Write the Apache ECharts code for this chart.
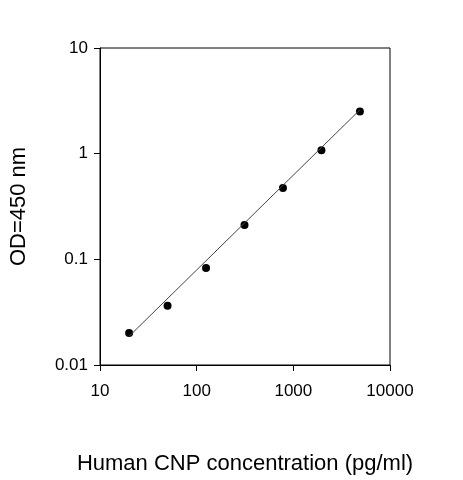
<!DOCTYPE html>
<html><head><meta charset="utf-8">
<script src="https://cdn.jsdelivr.net/npm/echarts@6/dist/echarts.min.js"></script>
<style>html,body{margin:0;padding:0;background:#fff}#c{width:463px;height:480px}</style>
</head><body><div id="c"></div>
<script>
const conc = [20, 50, 125, 312.5, 781, 1953, 4883];
const od = [0.0201, 0.0364, 0.083, 0.211, 0.472, 1.08, 2.51];
const fitX = [20, 4883];
const fitY = [0.0187, 2.6];
const chart = echarts.init(document.getElementById('c'));
const ax = {color:'#000', fontSize:17, fontFamily:'Liberation Sans, Arial'};
chart.setOption({
  animation:false,
  grid:{left:95, right:73, top:48, bottom:106, show:true, borderColor:'#000', borderWidth:1},
  xAxis:{type:'log', min:10, max:10000, logBase:10,
    name:'Human CNP concentration (pg/ml)', nameLocation:'middle', nameGap:88,
    nameTextStyle:{color:'#000', fontSize:22, fontFamily:'Liberation Sans, Arial'},
    axisLine:{lineStyle:{color:'#000'}}, axisTick:{inside:false, length:6, lineStyle:{color:'#000'}},
    axisLabel:Object.assign({margin:18, formatter:v=>String(Math.round(v))}, ax), splitLine:{show:false}, minorTick:{show:false}},
  yAxis:{type:'log', min:0.01, max:10, logBase:10,
    name:'OD=450 nm', nameLocation:'middle', nameGap:70,
    nameTextStyle:{color:'#000', fontSize:22, fontFamily:'Liberation Sans, Arial'},
    axisLine:{show:true, lineStyle:{color:'#000'}}, axisTick:{show:true, length:6, lineStyle:{color:'#000'}},
    axisLabel:Object.assign({margin:12, formatter:v=>String(+v.toPrecision(3))}, ax), splitLine:{show:false}},
  series:[
    {type:'line', data:fitX.map((x,i)=>[x,fitY[i]]), symbol:'none', lineStyle:{color:'#444', width:1}},
    {type:'scatter', data:conc.map((x,i)=>[x,od[i]]), symbolSize:8, itemStyle:{color:'#000', opacity:1}}
  ]
});
</script></body></html>
